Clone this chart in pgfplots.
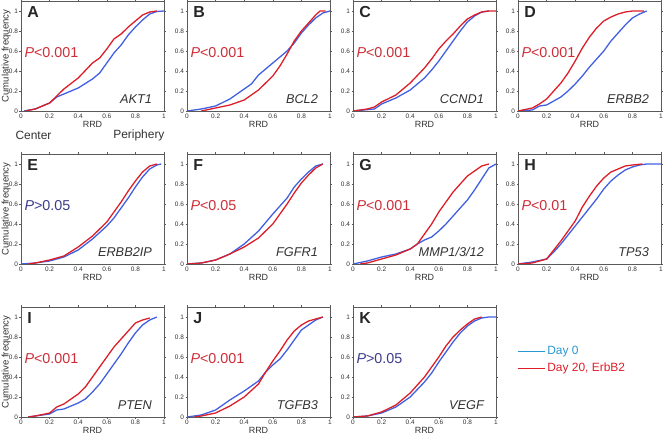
\documentclass[border=0pt]{standalone}
\usepackage{pgfplots}
\pgfplotsset{compat=1.18}
\usepackage{fontspec}
\setmainfont{Liberation Sans}

\definecolor{cred}{RGB}{220,30,40}
\definecolor{cblue}{RGB}{65,95,225}
\definecolor{pred}{RGB}{205,45,55}
\definecolor{pblue}{RGB}{60,60,140}
\definecolor{gtext}{RGB}{50,50,50}
\definecolor{legblue}{RGB}{40,150,210}
\definecolor{boxgray}{RGB}{90,90,90}

\pgfplotsset{
  cdf/.style={
    scale only axis, width=143bp, height=110bp, anchor=south west,
    xmin=0, xmax=1, ymin=0, ymax=1.1,
    xtick={0,0.2,0.4,0.6,0.8,1}, ytick={0,0.2,0.4,0.6,0.8,1},
    /pgf/number format/assume math mode=true,
    tick label style={font=\fontsize{6.5}{7}\selectfont, text=gtext},
    xticklabel style={yshift=2bp},
    yticklabel style={xshift=2bp},
    tick align=outside, major tick length=1.5bp,
    axis line style={boxgray, line width=0.8pt},
    tick style={boxgray, line width=0.5pt},
    xlabel={RRD},
    xlabel style={font=\fontsize{9}{10}\selectfont, text=gtext, yshift=4bp},
    ylabel style={font=\fontsize{9.6}{10}\selectfont, text=gtext, yshift=-8.5bp},
    every axis plot/.append style={line width=1.3pt, no markers},
  },
}

% #1 x, #2 y, #3 letter, #4 P colour, #5 P text, #6 gene, #7 blue, #8 red, #9 extra options
\newcommand\panel[9]{%
  \begin{axis}[cdf, at={(#1bp,#2bp)}, #9]
    \addplot[cblue] coordinates {#7};
    \addplot[cred] coordinates {#8};
    \node[anchor=west, font=\fontsize{16}{17}\selectfont\bfseries, text=black!85] at (rel axis cs:0.02,0.9) {#3};
    \node[anchor=west, font=\fontsize{14.4}{15}\selectfont, text=#4] at (rel axis cs:0.0,0.53) {\textit{P}#5};
    \node[anchor=east, font=\fontsize{12.8}{13}\selectfont\itshape, text=gtext] at (rel axis cs:0.94,0.11) {#6};
  \end{axis}}

\begin{document}
\begin{tikzpicture}
\useasboundingbox (0,0) rectangle (664bp,434bp);

% Row 1
\panel{21}{323}{A}{pred}{<0.001}{AKT1}
{(0.02,0) (0.1,0.02) (0.2,0.08) (0.25,0.14) (0.3,0.17) (0.4,0.23) (0.5,0.32) (0.55,0.38) (0.6,0.48) (0.65,0.58) (0.7,0.66) (0.75,0.76) (0.8,0.84) (0.85,0.91) (0.9,0.97) (0.95,0.995) (1,1)}
{(0.03,0) (0.1,0.02) (0.2,0.08) (0.25,0.15) (0.3,0.22) (0.4,0.33) (0.5,0.48) (0.55,0.53) (0.6,0.62) (0.65,0.72) (0.7,0.77) (0.75,0.84) (0.8,0.9) (0.85,0.96) (0.9,0.99) (0.95,1)}
{ylabel={Cumulative frequency}}

\panel{187}{323}{B}{pred}{<0.001}{BCL2}
{(0,0) (0.1,0.02) (0.2,0.05) (0.3,0.12) (0.4,0.22) (0.45,0.27) (0.5,0.36) (0.6,0.48) (0.7,0.6) (0.75,0.68) (0.8,0.78) (0.85,0.86) (0.9,0.93) (0.95,0.98) (1,1)}
{(0.1,0) (0.2,0.03) (0.3,0.06) (0.4,0.11) (0.5,0.21) (0.6,0.35) (0.65,0.45) (0.7,0.57) (0.75,0.7) (0.8,0.8) (0.85,0.88) (0.9,0.96) (0.93,1) (0.97,1)}
{}

\panel{353}{323}{C}{pred}{<0.001}{CCND1}
{(0,0) (0.15,0.02) (0.2,0.07) (0.3,0.13) (0.4,0.21) (0.5,0.33) (0.55,0.41) (0.6,0.5) (0.65,0.6) (0.7,0.7) (0.75,0.8) (0.8,0.89) (0.85,0.95) (0.9,0.99) (0.95,1)}
{(0,0) (0.1,0.02) (0.15,0.04) (0.2,0.09) (0.3,0.16) (0.4,0.28) (0.5,0.43) (0.55,0.52) (0.6,0.62) (0.65,0.7) (0.7,0.77) (0.75,0.85) (0.8,0.92) (0.85,0.96) (0.9,0.99) (0.95,1) (1,1)}
{}

\panel{518}{323}{D}{pred}{<0.001}{ERBB2}
{(0,0) (0.1,0.01) (0.15,0.05) (0.2,0.06) (0.25,0.1) (0.3,0.14) (0.35,0.2) (0.4,0.27) (0.45,0.35) (0.5,0.44) (0.55,0.52) (0.6,0.6) (0.65,0.7) (0.7,0.78) (0.75,0.86) (0.8,0.93) (0.85,0.97) (0.9,1)}
{(0,0) (0.1,0.03) (0.15,0.07) (0.2,0.12) (0.25,0.2) (0.3,0.28) (0.35,0.38) (0.4,0.5) (0.45,0.63) (0.5,0.74) (0.55,0.83) (0.6,0.9) (0.65,0.94) (0.7,0.97) (0.75,0.99) (0.8,1) (0.88,1)}
{}

% Row 2
\panel{21}{170}{E}{pblue}{>0.05}{ERBB2IP}
{(0,0) (0.1,0.01) (0.2,0.03) (0.3,0.07) (0.4,0.14) (0.5,0.25) (0.6,0.38) (0.65,0.46) (0.7,0.56) (0.75,0.66) (0.8,0.77) (0.85,0.87) (0.9,0.95) (0.95,0.99) (0.98,1)}
{(0.05,0) (0.1,0.01) (0.2,0.04) (0.3,0.08) (0.4,0.17) (0.5,0.28) (0.6,0.42) (0.65,0.52) (0.7,0.62) (0.75,0.73) (0.8,0.83) (0.85,0.92) (0.9,0.98) (0.95,1)}
{ylabel={Cumulative frequency}}

\panel{187}{170}{F}{pred}{<0.05}{FGFR1}
{(0,0) (0.1,0.01) (0.2,0.04) (0.3,0.1) (0.4,0.2) (0.5,0.33) (0.6,0.5) (0.65,0.58) (0.7,0.66) (0.75,0.77) (0.8,0.85) (0.85,0.92) (0.9,0.98) (0.95,1)}
{(0,0) (0.1,0.01) (0.2,0.04) (0.3,0.1) (0.4,0.17) (0.5,0.26) (0.6,0.4) (0.65,0.5) (0.7,0.6) (0.75,0.71) (0.8,0.81) (0.85,0.89) (0.9,0.96) (0.95,1)}
{}

\panel{353}{170}{G}{pred}{<0.001}{MMP1/3/12}
{(0,0) (0.1,0.03) (0.2,0.07) (0.3,0.1) (0.4,0.15) (0.45,0.2) (0.5,0.24) (0.55,0.27) (0.6,0.33) (0.65,0.4) (0.7,0.48) (0.75,0.56) (0.8,0.64) (0.85,0.74) (0.9,0.85) (0.95,0.96) (1,1)}
{(0.05,0) (0.1,0.01) (0.2,0.05) (0.3,0.09) (0.4,0.15) (0.45,0.2) (0.5,0.3) (0.55,0.4) (0.6,0.52) (0.65,0.62) (0.7,0.72) (0.75,0.8) (0.8,0.88) (0.85,0.93) (0.9,0.98) (0.95,1)}
{}

\panel{518}{170}{H}{pred}{<0.01}{TP53}
{(0,0) (0.1,0.02) (0.2,0.05) (0.25,0.12) (0.3,0.2) (0.35,0.29) (0.4,0.38) (0.45,0.47) (0.5,0.56) (0.55,0.65) (0.6,0.75) (0.65,0.83) (0.7,0.89) (0.75,0.94) (0.8,0.97) (0.85,0.99) (0.9,1) (1,1)}
{(0,0) (0.1,0.01) (0.2,0.05) (0.25,0.14) (0.3,0.23) (0.35,0.33) (0.4,0.43) (0.45,0.57) (0.5,0.68) (0.55,0.78) (0.6,0.86) (0.65,0.92) (0.7,0.95) (0.75,0.98) (0.8,0.99) (0.87,1)}
{}

% Row 3
\panel{21}{17}{I}{pred}{<0.001}{PTEN}
{(0.05,0) (0.1,0.01) (0.2,0.03) (0.25,0.07) (0.3,0.08) (0.4,0.14) (0.45,0.18) (0.5,0.25) (0.55,0.33) (0.6,0.43) (0.65,0.53) (0.7,0.63) (0.75,0.74) (0.8,0.84) (0.85,0.92) (0.9,0.97) (0.95,1)}
{(0.05,0) (0.1,0.01) (0.2,0.04) (0.25,0.1) (0.3,0.13) (0.4,0.23) (0.45,0.3) (0.5,0.4) (0.55,0.5) (0.6,0.6) (0.65,0.7) (0.7,0.78) (0.75,0.86) (0.8,0.94) (0.85,0.97) (0.9,0.99)}
{ylabel={Cumulative frequency}}

\panel{187}{17}{J}{pred}{<0.001}{TGFB3}
{(0,0) (0.1,0.02) (0.2,0.07) (0.3,0.17) (0.4,0.26) (0.5,0.36) (0.55,0.45) (0.6,0.52) (0.65,0.58) (0.7,0.67) (0.75,0.77) (0.8,0.87) (0.85,0.92) (0.9,0.97) (0.95,1)}
{(0.05,0) (0.1,0.01) (0.2,0.04) (0.3,0.11) (0.4,0.2) (0.5,0.33) (0.55,0.45) (0.6,0.56) (0.65,0.66) (0.7,0.77) (0.75,0.86) (0.8,0.92) (0.85,0.96) (0.9,0.98) (0.95,1)}
{}

\panel{353}{17}{K}{pblue}{>0.05}{VEGF}
{(0,0) (0.1,0.01) (0.2,0.04) (0.3,0.1) (0.4,0.2) (0.5,0.35) (0.55,0.44) (0.6,0.55) (0.65,0.65) (0.7,0.75) (0.75,0.84) (0.8,0.91) (0.85,0.96) (0.9,0.99) (0.95,1) (1,1)}
{(0,0) (0.1,0.01) (0.2,0.05) (0.3,0.12) (0.4,0.24) (0.5,0.4) (0.55,0.5) (0.6,0.6) (0.65,0.71) (0.7,0.8) (0.75,0.87) (0.8,0.93) (0.85,0.98) (0.9,1)}
{}

% legend, in an empty axis over panel K
\begin{axis}[cdf, at={(353bp,17bp)}, hide axis, xlabel={}, ylabel={},
   legend style={at={(rel axis cs:1.145,0.52)}, anchor=west, draw=none, fill=none,
   font=\fontsize{12}{13}\selectfont, row sep=3bp, inner sep=0pt},
   legend cell align=left,
   legend image code/.code={\draw (0bp,0bp) -- (27bp,0bp);}]
  \addlegendimage{legblue, line width=1.4pt}
  \addlegendentry{\textcolor{legblue}{Day 0}}
  \addlegendimage{cred, line width=1.4pt}
  \addlegendentry{\textcolor{cred}{Day 20, ErbB2}}
\end{axis}

\node[anchor=west, font=\fontsize{12}{13}\selectfont, text=gtext] at (12bp,299bp) {Center};
\node[anchor=east, font=\fontsize{12}{13}\selectfont, text=gtext] at (168bp,299bp) {Periphery};
\end{tikzpicture}
\end{document}
